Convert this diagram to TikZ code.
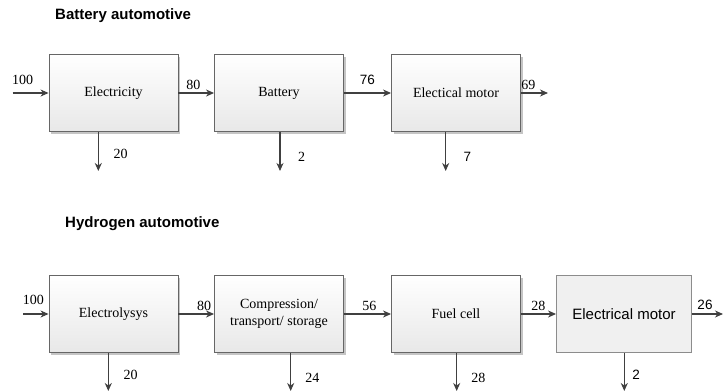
\documentclass[tikz,border=0pt]{standalone}
\usepackage{fontspec}
\setmainfont{Liberation Serif}
\setsansfont{Liberation Sans}
\usetikzlibrary{arrows.meta,shadows}
\begin{document}
\begin{tikzpicture}[x=1pt, y=-1pt, >={Stealth[length=8pt,width=7pt,inset=2.5pt]},
  stage/.style={draw=black!60, line width=0.9pt, top color=white, bottom color=black!9,
    drop shadow={shadow xshift=2pt, shadow yshift=-2pt, fill=black!45, opacity=0.5},
    minimum width=129pt, minimum height=77pt, inner sep=0pt, align=center,
    font=\fontsize{14}{17}\selectfont},
  flatstage/.style={draw=black!45, line width=0.9pt, fill=black!6,
    minimum width=135pt, minimum height=77pt, inner sep=0pt,
    font=\sffamily\fontsize{15}{18}\selectfont},
  flow/.style={->, draw=black!75, line width=1.1pt},
  num/.style={font=\fontsize{14}{16}\selectfont, inner sep=0pt},
  snum/.style={font=\sffamily\fontsize{13.5}{16}\selectfont, inner sep=0pt},
  heading/.style={font=\sffamily\bfseries\fontsize{15}{18}\selectfont, anchor=west, inner sep=0pt}]
  \useasboundingbox (0,0) rectangle (723,391);

  % battery automotive
  \node[heading] (bat-title) at (55,16) {Battery automotive};
  \node[stage] (elec) at (113.5,93) {Electricity};
  \node[stage] (batt) at (279,93) {Battery};
  \node[stage] (bmot) at (456,93) {Electical motor};
  \coordinate (b-in) at (12.7,93);
  \coordinate (b-out) at (548,93);
  \draw[flow] (b-in) -- (elec);
  \draw[flow] (elec) -- (batt);
  \draw[flow] (batt) -- (bmot);
  \draw[flow] (bmot) -- (b-out);
  \coordinate (elec-loss) at (98.3,171);
  \coordinate (batt-loss) at (280,171);
  \coordinate (bmot-loss) at (445.7,171);
  \draw[flow] (elec.south -| elec-loss) -- (elec-loss);
  \draw[flow] (batt.south -| batt-loss) -- (batt-loss);
  \draw[flow] (bmot.south -| bmot-loss) -- (bmot-loss);
  \node[num] at (22.7,80) {100};
  \node[num] at (193.3,85) {80};
  \node[snum] at (367.3,80) {76};
  \node[num] at (528.3,85) {69};
  \node[num] at (120.7,154) {20};
  \node[num] at (301.7,156.7) {2};
  \node[snum] at (467.3,157) {7};

  % hydrogen automotive
  \node[heading] (hyd-title) at (65,224) {Hydrogen automotive};
  \node[stage] (lysis) at (113.5,314) {Electrolysys};
  \node[stage] (comp) at (279,314) {Compression/\\transport/ storage};
  \node[stage] (fcell) at (456,314) {Fuel cell};
  \node[flatstage] (hmot) at (624,314) {Electrical motor};
  \coordinate (h-in) at (23,314);
  \coordinate (h-out) at (723,314);
  \draw[flow] (h-in) -- (lysis);
  \draw[flow] (lysis) -- (comp);
  \draw[flow] (comp) -- (fcell);
  \draw[flow] (fcell) -- (hmot);
  \draw[flow] (hmot) -- (h-out);
  \coordinate (lysis-loss) at (108.3,391);
  \coordinate (comp-loss) at (290.7,391);
  \coordinate (fcell-loss) at (456.7,391);
  \coordinate (hmot-loss) at (624.3,391);
  \draw[flow] (lysis.south -| lysis-loss) -- (lysis-loss);
  \draw[flow] (comp.south -| comp-loss) -- (comp-loss);
  \draw[flow] (fcell.south -| fcell-loss) -- (fcell-loss);
  \draw[flow] (hmot.south -| hmot-loss) -- (hmot-loss);
  \node[num] at (33.3,300) {100};
  \node[num] at (204,306) {80};
  \node[num] at (369.3,306) {56};
  \node[num] at (538.3,306) {28};
  \node[snum] at (705,305) {26};
  \node[num] at (130.7,375) {20};
  \node[num] at (312.3,377.7) {24};
  \node[num] at (478.3,377.7) {28};
  \node[snum] at (636,375) {2};
\end{tikzpicture}
\end{document}
